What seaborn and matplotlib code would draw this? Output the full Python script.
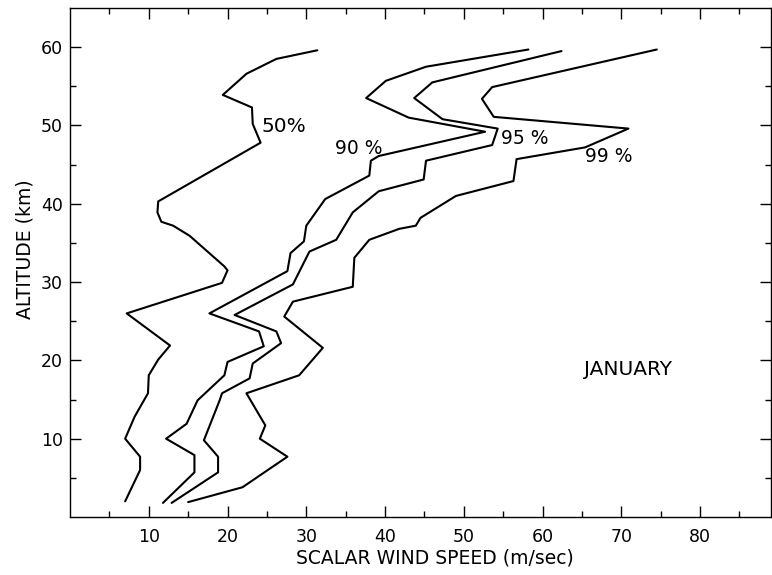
import matplotlib
matplotlib.use("Agg")
import matplotlib.pyplot as plt
import seaborn as sns
from matplotlib.ticker import FixedLocator

# ---- data ----
speed_50 = [7.0, 8.9, 8.9, 7.0, 8.2, 9.9, 10.0, 11.2, 12.7, 7.2, 19.3, 20.0, 19.6,
            15.2, 13.1, 11.6, 11.1, 11.2, 24.2, 23.2, 23.1, 19.4, 22.4, 26.2, 31.4]
alt_50 = [2.0, 6.0, 7.7, 10.0, 12.8, 15.8, 18.1, 20.1, 21.9, 26.0, 29.9, 31.5, 32.0,
          35.9, 37.2, 37.7, 38.9, 40.3, 47.8, 50.2, 52.3, 53.9, 56.6, 58.5, 59.6]

speed_90 = [11.8, 15.8, 15.8, 12.2, 14.8, 16.2, 19.6, 20.0, 24.6, 24.0, 17.7, 27.6,
            28.0, 29.7, 30.0, 32.4, 38.0, 38.2, 39.2, 52.7, 43.0, 37.6, 40.1, 45.2, 58.2]
alt_90 = [1.8, 5.7, 7.9, 10.0, 11.9, 14.9, 18.1, 19.8, 21.8, 23.7, 26.0, 31.4,
          33.7, 35.2, 37.2, 40.6, 43.6, 45.5, 46.1, 49.2, 51.0, 53.5, 55.7, 57.5, 59.7]

speed_95 = [12.9, 18.8, 18.8, 17.0, 19.0, 19.3, 22.8, 23.2, 26.8, 26.2, 20.9, 28.3,
            30.4, 33.8, 35.9, 39.2, 44.9, 45.2, 53.6, 54.3, 47.3, 43.7, 46.0, 62.4]
alt_95 = [1.8, 5.7, 7.7, 9.8, 14.9, 15.8, 17.7, 19.6, 22.2, 23.7, 25.8, 29.7,
          33.9, 35.4, 38.9, 41.6, 43.1, 45.5, 47.5, 49.6, 50.8, 53.5, 55.5, 59.5]

speed_99 = [15.0, 21.9, 27.6, 24.1, 24.8, 22.4, 29.1, 32.1, 27.2, 28.3, 35.9, 36.1,
            38.0, 41.8, 43.9, 44.5, 49.0, 56.3, 56.7, 65.4, 70.9, 53.8, 52.3, 53.6, 74.5]
alt_99 = [1.9, 3.8, 7.7, 10.0, 11.7, 15.8, 18.1, 21.6, 25.6, 27.5, 29.4, 33.1,
          35.4, 36.8, 37.2, 38.2, 41.0, 42.9, 45.7, 47.2, 49.6, 51.1, 53.4, 54.9, 59.7]

curve_labels = ["50%", "90 %", "95 %", "99 %"]
label_x = [24.3, 33.6, 54.7, 65.4]
label_y = [49.9, 47.0, 48.3, 46.1]

x_ticks = [10, 20, 30, 40, 50, 60, 70, 80]
y_ticks = [10, 20, 30, 40, 50, 60]

# ---- plotting ----
sns.set_theme(style="ticks")
plt.rcParams['font.family'] = ['DejaVu Sans']

fig = plt.figure(figsize=(7.72, 5.75), dpi=100)
ax = fig.add_axes([70 / 772, 1 - 517 / 575, 701 / 772, 509 / 575])

series = [(speed_50, alt_50), (speed_90, alt_90), (speed_95, alt_95), (speed_99, alt_99)]
for sp, al in series:
    sns.lineplot(x=sp, y=al, sort=False, estimator=None, color="black",
                 linewidth=1.5, ax=ax)

for lab, lx, ly in zip(curve_labels, label_x, label_y):
    fs = 14.5 if lab == "50%" else 13.5
    ax.text(lx, ly, lab, fontsize=fs, color="black", ha="left", va="center")

ax.text(65.2, 18.8, "JANUARY", fontsize=14.5, color="black", ha="left", va="center")

ax.set_xlim(0, 89)
ax.set_ylim(0, 65)
ax.xaxis.set_major_locator(FixedLocator(x_ticks))
ax.xaxis.set_minor_locator(FixedLocator([5, 15, 25, 35, 45, 55, 65, 75, 85]))
ax.yaxis.set_major_locator(FixedLocator(y_ticks))
ax.yaxis.set_minor_locator(FixedLocator([5, 15, 25, 35, 45, 55]))
ax.set_xticklabels([str(t) for t in x_ticks])
ax.set_yticklabels([str(t) for t in y_ticks])

ax.tick_params(which="both", direction="in", top=True, right=True,
               colors="black", width=1.0)
ax.tick_params(which="major", length=8, labelsize=12.5)
ax.tick_params(axis="x", which="major", pad=8)
ax.tick_params(axis="y", which="major", pad=5)
ax.tick_params(which="minor", length=4)

for s in ax.spines.values():
    s.set_color("black")
    s.set_linewidth(1.0)

ax.set_xlabel("SCALAR WIND SPEED (m/sec)", fontsize=13.5, color="black")
ax.set_ylabel("ALTITUDE (km)", fontsize=13.5, color="black")
ax.xaxis.set_label_coords((435 - 70) / 701, -(558 - 517) / 509)
ax.yaxis.set_label_coords((25 - 70) / 701, (517 - 249) / 509)
ax.xaxis.label.set_va("center")
ax.yaxis.label.set_va("center")

fig.savefig("out.png", dpi=100, facecolor="white")
